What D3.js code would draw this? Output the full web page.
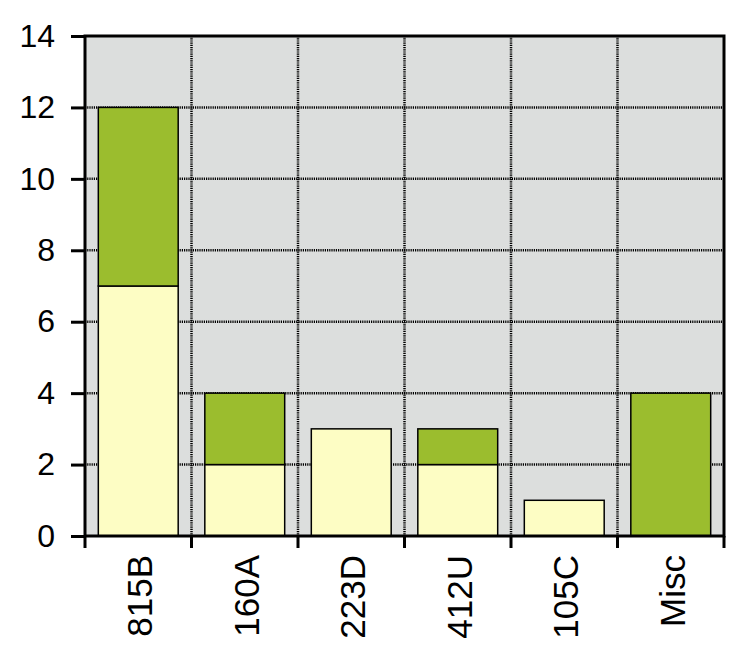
<!DOCTYPE html>
<html><head><meta charset="utf-8">
<script src="https://cdn.jsdelivr.net/npm/d3@7"></script>
<style>body{margin:0;background:#fff}svg{display:block}</style>
</head><body>
<script>
const categories = ["815B","160A","223D","412U","105C","Misc"];
const lowerValues = [7,2,3,2,1,0];
const upperValues = [5,2,0,1,0,4];
const yTicks = [0,2,4,6,8,10,12,14];

const W=756,H=648;
const m={l:85,r:32,t:36,b:112};
const svg=d3.select("body").append("svg").attr("width",W).attr("height",H);
const x=d3.scaleBand().domain(categories).range([m.l,W-m.r]).paddingInner(0.25).paddingOuter(0.125);
const xb=d3.scaleBand().domain(categories).range([m.l,W-m.r]);
const y=d3.scaleLinear().domain([0,14]).range([H-m.b,m.t]);
const FONT="Liberation Sans, Arial, Helvetica, sans-serif";

svg.append("rect").attr("x",m.l).attr("y",m.t).attr("width",W-m.r-m.l).attr("height",H-m.b-m.t).attr("fill","#dcdedd");

// grid
const g=svg.append("g");
yTicks.slice(1,-1).forEach(t=>{
  g.append("line").attr("x1",m.l).attr("x2",W-m.r).attr("y1",y(t)).attr("y2",y(t))
   .attr("stroke","#000").attr("stroke-width",2.5).attr("stroke-dasharray","1.2,1");
});
categories.slice(1).forEach(c=>{
  g.append("line").attr("x1",xb(c)).attr("x2",xb(c)).attr("y1",m.t).attr("y2",H-m.b)
   .attr("stroke","#000").attr("stroke-width",2.5).attr("stroke-dasharray","1.2,1");
});

// bars
const data=categories.map((c,i)=>({c,lo:lowerValues[i],hi:upperValues[i]}));
data.forEach(d=>{
  if(d.lo>0) svg.append("rect").attr("x",x(d.c)).attr("width",x.bandwidth())
    .attr("y",y(d.lo)).attr("height",y(0)-y(d.lo)).attr("fill","#fdfdc4").attr("stroke","#000").attr("stroke-width",1.5);
  if(d.hi>0) svg.append("rect").attr("x",x(d.c)).attr("width",x.bandwidth())
    .attr("y",y(d.lo+d.hi)).attr("height",y(d.lo)-y(d.lo+d.hi)).attr("fill","#9bbd2e").attr("stroke","#000").attr("stroke-width",1.5);
});

// frame
svg.append("rect").attr("x",m.l).attr("y",m.t).attr("width",W-m.r-m.l).attr("height",H-m.b-m.t)
  .attr("fill","none").attr("stroke","#000").attr("stroke-width",3);

// y axis
const ya=svg.append("g").attr("transform",`translate(${m.l},0)`)
  .call(d3.axisLeft(y).tickValues(yTicks).tickSize(14).tickPadding(16));
ya.select(".domain").remove();
ya.selectAll("line").attr("stroke","#000").attr("stroke-width",3);
ya.selectAll("text").attr("font-family",FONT).attr("font-size",32).attr("fill","#000");

// x axis ticks at boundaries
const xa=svg.append("g");
categories.forEach(c=>{
  xa.append("line").attr("x1",xb(c)).attr("x2",xb(c)).attr("y1",H-m.b).attr("y2",H-m.b+12).attr("stroke","#000").attr("stroke-width",3);
});
xa.append("line").attr("x1",W-m.r).attr("x2",W-m.r).attr("y1",H-m.b).attr("y2",H-m.b+12).attr("stroke","#000").attr("stroke-width",3);
categories.forEach(c=>{
  const cx=xb(c)+xb.bandwidth()/2;
  xa.append("text").attr("transform",`translate(${cx+14},${H-m.b+19}) rotate(-90)`)
    .attr("text-anchor","end").attr("font-family",FONT).attr("font-size",35).text(c);
});
</script>
</body></html>
